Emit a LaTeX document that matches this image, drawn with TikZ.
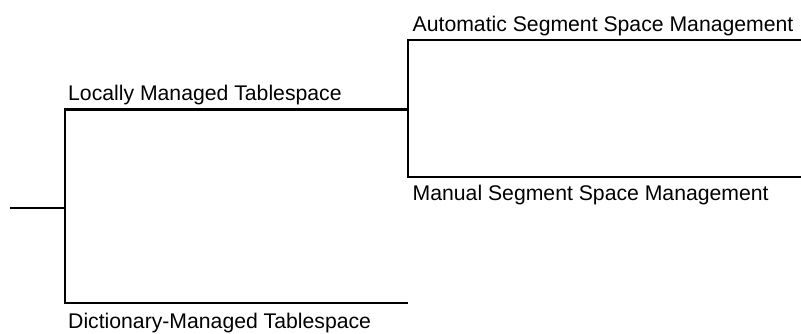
\documentclass[tikz,border=0pt]{standalone}
\usepackage{fontspec}
\setmainfont{Liberation Sans}
\begin{document}
\begin{tikzpicture}[x=1pt,y=-1pt,
  branch/.style={draw=black,line width=2.2pt},
  lbl/.style={anchor=base west,inner sep=0pt,font=\fontsize{21.2}{25}\selectfont}]
\useasboundingbox (0,0) rectangle (801,333);
\coordinate (root) at (10,208);
\coordinate (j1) at (65,208);
\coordinate (lmtR) at (408,109.5);
\coordinate (dmtR) at (408,303);
\coordinate (assmR) at (801,40);
\coordinate (mssmR) at (801,177);
\draw[branch] (root) -- (j1);
\draw[branch] (j1) |- (lmtR);
\draw[branch] (j1) |- (dmtR);
\draw[branch] (lmtR) |- (assmR);
\draw[branch] (lmtR) |- (mssmR);
\node[lbl] (lmt) at (68,100) {Locally Managed Tablespace};
\node[lbl] (dmt) at (68,328.5) {Dictionary-Managed Tablespace};
\node[lbl] (assm) at (412.5,31.5) {Automatic Segment Space Management};
\node[lbl] (mssm) at (412.5,200) {Manual Segment Space Management};
\end{tikzpicture}
\end{document}
